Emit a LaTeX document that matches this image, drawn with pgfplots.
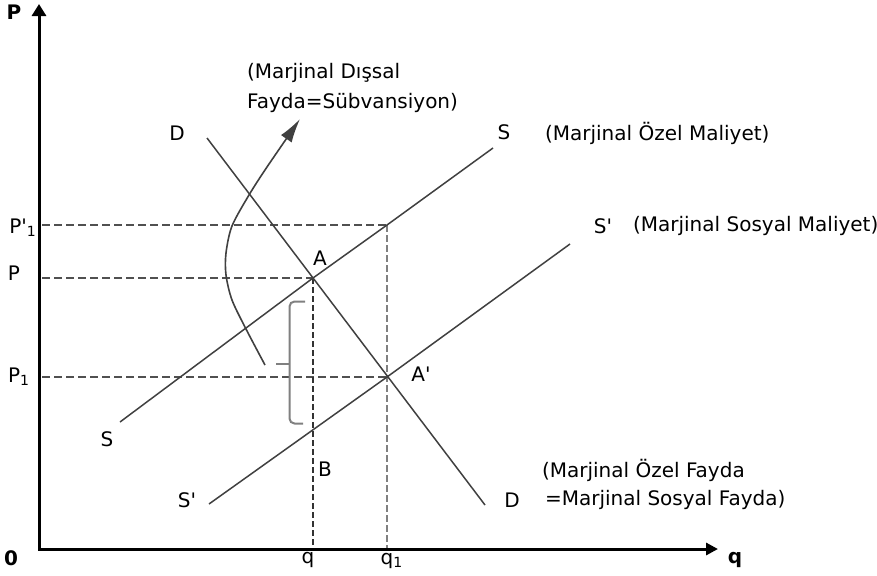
\documentclass[border=0pt]{standalone}
\usepackage{fontspec}
\setmainfont{DejaVu Sans}
\usepackage{pgfplots}
\pgfplotsset{compat=1.18}
\usetikzlibrary{arrows.meta}
\newfontfamily\lbl[LetterSpace=8]{DejaVu Sans}
\definecolor{ln}{HTML}{404040}
\definecolor{dsh}{HTML}{505050}
\newcommand{\pr}{\textquotesingle}
\begin{document}
\begin{tikzpicture}
\begin{axis}[
  at={(0,0)}, anchor=south west,
  width=438.5pt, height=287.5pt, scale only axis,
  xmin=0, xmax=877, ymin=0, ymax=575,
  hide axis, clip=false,
  every node/.style={font=\lbl\fontsize{8.5}{10}\selectfont, inner sep=0pt},
]
% axes
\addplot[black, line width=1.5pt, -{Triangle[length=6pt,width=7pt]}] coordinates {(39,26) (39,571)};
\addplot[black, line width=1.5pt, -{Triangle[length=6pt,width=6pt]}] coordinates {(38,26) (718,26)};
% dashed guides
\addplot[dsh, line width=0.9pt, dash pattern=on 4pt off 2pt] coordinates {(42,350) (387,350)};
\addplot[dsh, line width=0.9pt, dash pattern=on 4pt off 2pt] coordinates {(42,297) (313,297)};
\addplot[dsh, line width=0.9pt, dash pattern=on 4pt off 2pt] coordinates {(42,198) (387,198)};
\addplot[black!80, line width=0.8pt, dash pattern=on 3pt off 1.5pt] coordinates {(313,297) (313,27)};
\addplot[gray, line width=0.9pt, dash pattern=on 3.5pt off 1.5pt] coordinates {(387,350) (387,27)};
% curves
\addplot[ln, line width=0.75pt] coordinates {(207,437) (485,70)};
\addplot[ln, line width=0.75pt] coordinates {(120,153) (313,297) (387,350) (493,427)};
\addplot[ln, line width=0.75pt] coordinates {(209,71) (387,198) (570,331)};
% curved arrow
\addplot[ln, line width=0.8pt, smooth, -{Latex[length=12pt,width=6.5pt]}] coordinates {(265,210) (246,246) (232,275) (226,300) (226,322) (232,349) (249,380) (267,408) (300,456)};
% bracket
\draw[gray, line width=1pt, rounded corners=2.5pt] (axis cs:305,273.5) -- (289.5,273.5) -- (289.5,151.5) -- (303,151.5);
\draw[gray, line width=1pt] (axis cs:276,211.5) -- (289.5,211.5);
% labels
\node[font=\bfseries\fontsize{10}{12}\selectfont] at (axis cs:14,563) {P};
\node[font=\bfseries\fontsize{10}{12}\selectfont] at (axis cs:11,17) {0};
\node[font=\bfseries\fontsize{10}{12}\selectfont] at (axis cs:735,15) {q};
\node at (axis cs:23,347) {P\pr\textsubscript{1}};
\node at (axis cs:14,302) {P};
\node at (axis cs:19,198) {P\textsubscript{1}};
\node at (axis cs:308,15) {q};
\node at (axis cs:392,14) {q\textsubscript{1}};
\node at (axis cs:320,317) {A};
\node at (axis cs:421,201) {A\pr};
\node at (axis cs:325,106) {B};
\node at (axis cs:107,136) {S};
\node at (axis cs:187,75) {S\pr};
\node at (axis cs:177,442) {D};
\node at (axis cs:504,443) {S};
\node[anchor=west] at (axis cs:538,442) {(Marjinal Özel Maliyet)};
\node at (axis cs:603,349) {S\pr};
\node[anchor=west] at (axis cs:626,349) {(Marjinal Sosyal Maliyet)};
\node[anchor=west] at (axis cs:240,502) {(Marjinal Dışsal};
\node[anchor=west] at (axis cs:240,472) {Fayda=Sübvansiyon)};
\node[anchor=west] at (axis cs:535,105) {(Marjinal Özel Fayda};
\node at (axis cs:512,75) {D};
\node[anchor=west] at (axis cs:538,75) {=Marjinal Sosyal Fayda)};
\end{axis}
\pgfresetboundingbox
\useasboundingbox (0,0) rectangle (438.5pt,287.5pt);
\end{tikzpicture}
\end{document}
